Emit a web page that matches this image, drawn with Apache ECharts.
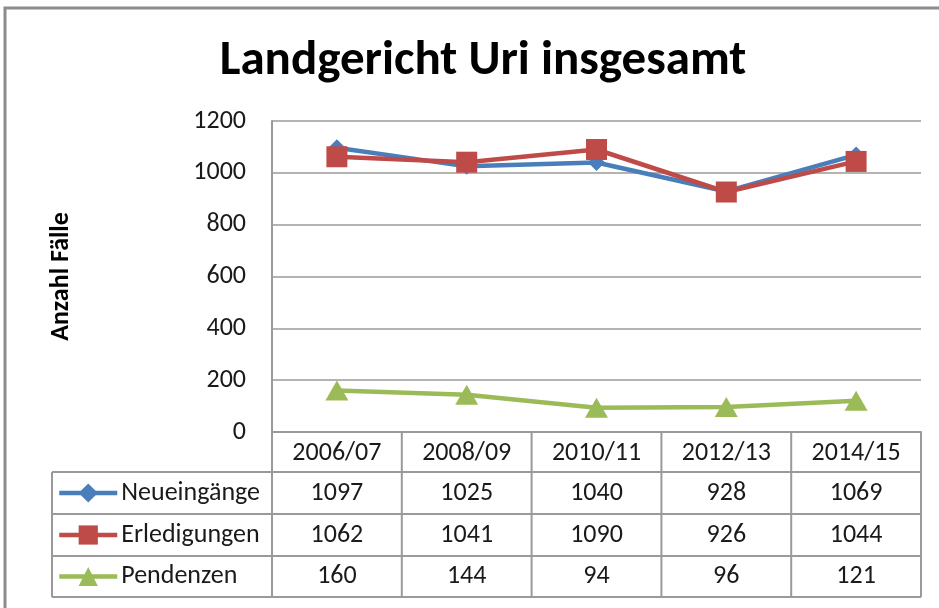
<!DOCTYPE html>
<html>
<head>
<meta charset="utf-8">
<script src="https://cdn.jsdelivr.net/npm/echarts@6/dist/echarts.min.js"></script>
<style>
  html, body { margin: 0; padding: 0; background: #fff; }
  #chart { width: 939px; height: 608px; }
</style>
</head>
<body>
<div id="chart"></div>
<script>
// data
const periods = ['2006/07', '2008/09', '2010/11', '2012/13', '2014/15'];
const seriesNames = ['Neueingänge', 'Erledigungen', 'Pendenzen'];
const neueingaenge = [1097, 1025, 1040, 928, 1069];
const erledigungen = [1062, 1041, 1090, 926, 1044];
const pendenzen = [160, 144, 94, 96, 121];

const FONT = 'Carlito, Lato, "Open Sans", sans-serif';
const colors = ['#4a7ebb', '#be4b48', '#9bbb59'];
const symbols = ['diamond', 'rect', 'triangle'];
const symbolSizes = [17, 21, [23, 20]];
const rows = [neueingaenge, erledigungen, pendenzen];
const rowLines = [472, 514, 556, 597];
const gridCol = '#9a9a9a';
const TXT = 26;

const chart = echarts.init(document.getElementById('chart'));

chart.setOption({
  animation: false,
  title: {
    text: 'Landgericht Uri insgesamt',
    left: 478,
    top: 32,
    textAlign: 'center',
    textStyle: { fontFamily: FONT, fontSize: 49, fontWeight: 'bold', color: '#000' }
  },
  legend: seriesNames.map((n, i) => ({
    data: [n],
    left: 57,
    top: (rowLines[i] + rowLines[i + 1]) / 2 - 13,
    itemWidth: 58,
    itemHeight: 24,
    itemGap: 0,
    padding: 0,
    selectedMode: false,
    lineStyle: { width: 4.5 },
    textStyle: { fontFamily: FONT, fontSize: TXT, color: '#1a1a1a', padding: [0, 0, 0, -1] }
  })),
  grid: { left: 272, right: 18, top: 121, bottom: 176 },
  xAxis: {
    type: 'category',
    data: periods,
    boundaryGap: true,
    axisTick: { show: false },
    axisLine: { lineStyle: { color: gridCol, width: 2 } },
    axisLabel: { fontFamily: FONT, fontSize: TXT, color: '#1a1a1a', margin: 8 }
  },
  yAxis: {
    type: 'value',
    min: 0,
    max: 1200,
    interval: 200,
    name: 'Anzahl Fälle',
    nameLocation: 'middle',
    nameGap: 198,
    nameTextStyle: { fontFamily: FONT, fontSize: 26, fontWeight: 'bold', color: '#000' },
    axisLine: { show: true, lineStyle: { color: gridCol, width: 2 } },
    axisTick: { show: false },
    splitLine: { lineStyle: { color: gridCol, width: 1.5 } },
    axisLabel: { fontFamily: FONT, fontSize: TXT, color: '#1a1a1a', margin: 26, formatter: v => String(v) }
  },
  series: seriesNames.map((n, i) => ({
    name: n,
    type: 'line',
    data: rows[i],
    symbol: symbols[i],
    symbolSize: symbolSizes[i],
    showAllSymbol: true,
    z: 3 + i,
    lineStyle: { color: colors[i], width: 4.5 },
    itemStyle: { color: colors[i] },
    emphasis: { disabled: true }
  }))
});

// data table under the plot, aligned to the category axis
const c0 = chart.convertToPixel({ xAxisIndex: 0 }, 0);
const c1 = chart.convertToPixel({ xAxisIndex: 0 }, 1);
const step = c1 - c0;
const bounds = periods.map((p, i) => c0 - step / 2 + i * step).concat([c0 - step / 2 + periods.length * step]);
const axisY = chart.convertToPixel({ yAxisIndex: 0 }, 0);
const left = 52;
const right = bounds[bounds.length - 1];
const lineStyle = { stroke: gridCol, lineWidth: 2 };
const els = [];

// outer chart border (cropped on the right and bottom)
els.push({ type: 'rect', shape: { x: 5, y: 8, width: 1000, height: 700 }, style: { fill: 'none', stroke: '#8c8c8c', lineWidth: 3 }, silent: true });

rowLines.forEach(y => {
  els.push({ type: 'line', shape: { x1: left, y1: y, x2: right, y2: y }, style: lineStyle, silent: true });
});
els.push({ type: 'line', shape: { x1: left, y1: rowLines[0], x2: left, y2: rowLines[3] }, style: lineStyle, silent: true });
bounds.forEach(x => {
  els.push({ type: 'line', shape: { x1: x, y1: axisY, x2: x, y2: rowLines[3] }, style: lineStyle, silent: true });
});
rows.forEach((vals, r) => {
  const cy = (rowLines[r] + rowLines[r + 1]) / 2;
  vals.forEach((v, i) => {
    els.push({
      type: 'text', x: c0 + i * step, y: cy, silent: true,
      style: { text: String(v), fontFamily: FONT, fontSize: TXT, fill: '#1a1a1a', align: 'center', verticalAlign: 'middle' }
    });
  });
});

chart.setOption({ graphic: els });
</script>
</body>
</html>
